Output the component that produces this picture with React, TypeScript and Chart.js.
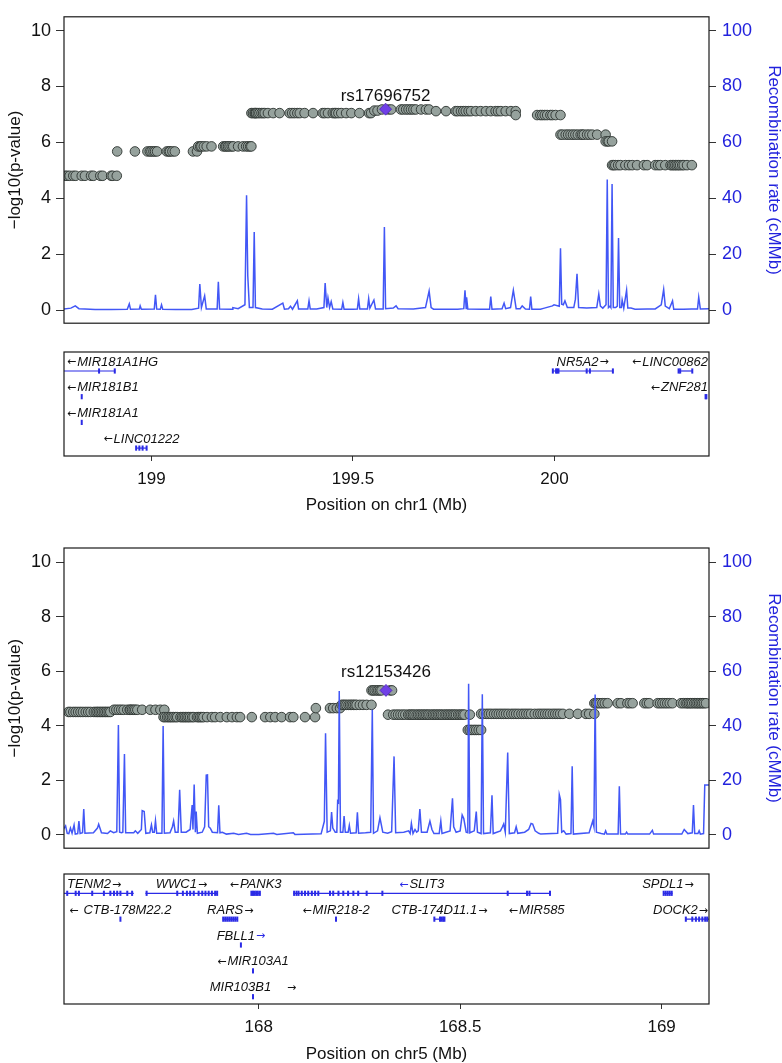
import { useEffect, useRef } from 'react';
import { Chart, registerables } from 'chart.js';

Chart.register(...registerables);

// ---------------- DATA ----------------
type Block = { logp: number; pos: number[] };
type Gene = { name: string; strand: '+' | '-'; row: number; start: number; end: number; exons: number[] };
type Lead = { name: string; pos: number; logp: number; labelY: number };

const leftTicks = [0, 2, 4, 6, 8, 10];
const rightTicks = [0, 20, 40, 60, 80, 100];
const topXTicks = [199, 199.5, 200];
const botXTicks = [168, 168.5, 169];

const topLead: Lead = { name: 'rs17696752', pos: 199.581, logp: 7.19, labelY: 7.64 };
const botLead: Lead = { name: 'rs12153426', pos: 168.316, logp: 5.3, labelY: 5.97 };

const topSnps: Block[] = [
  { logp: 4.81, pos: [198.786, 198.791, 198.797, 198.806, 198.812, 198.827, 198.835, 198.85, 198.856, 198.873, 198.879, 198.9, 198.904, 198.914] },
  { logp: 5.68, pos: [198.915, 198.959, 198.99, 198.996, 199.0, 199.005, 199.009, 199.014, 199.038, 199.043, 199.046, 199.052, 199.058, 199.103, 199.113] },
  { logp: 5.86, pos: [199.116, 199.121, 199.124, 199.13, 199.137, 199.149, 199.178, 199.183, 199.186, 199.19, 199.194, 199.199, 199.203, 199.215, 199.227, 199.235, 199.24, 199.245, 199.248] },
  { logp: 7.05, pos: [199.248, 199.252, 199.256, 199.258, 199.26, 199.264, 199.268, 199.273, 199.277, 199.281, 199.289, 199.302, 199.318, 199.343, 199.349, 199.355, 199.362, 199.368, 199.38, 199.401, 199.425, 199.43, 199.438, 199.45, 199.455, 199.458, 199.464, 199.471, 199.483, 199.496, 199.516, 199.54, 199.545] },
  { logp: 7.14, pos: [199.553, 199.561] },
  { logp: 7.18, pos: [199.572, 199.588, 199.595, 199.619, 199.625, 199.632, 199.638, 199.644, 199.65, 199.656, 199.669, 199.681, 199.689] },
  { logp: 7.12, pos: [199.706, 199.731, 199.755, 199.76, 199.768, 199.774, 199.78, 199.787, 199.793, 199.805, 199.817, 199.83, 199.842, 199.854, 199.86, 199.867, 199.879, 199.892, 199.904] },
  { logp: 6.98, pos: [199.904, 199.957, 199.965, 199.97, 199.976, 199.982, 199.99, 199.995, 200.003, 200.015] },
  { logp: 6.28, pos: [200.015, 200.02, 200.028, 200.034, 200.04, 200.046, 200.052, 200.058, 200.065, 200.069, 200.073, 200.081, 200.087, 200.094, 200.106, 200.127] },
  { logp: 6.04, pos: [200.127, 200.132, 200.135, 200.143] },
  { logp: 5.19, pos: [200.143, 200.147, 200.151, 200.158, 200.164, 200.176, 200.185, 200.193, 200.205, 200.222, 200.23, 200.25, 200.257, 200.263, 200.275, 200.288, 200.292, 200.296, 200.3, 200.304, 200.308, 200.312, 200.317, 200.321, 200.329, 200.341] },
];

const botSnps: Block[] = [
  { logp: 4.51, pos: [167.528, 167.533, 167.54, 167.546, 167.552, 167.558, 167.564, 167.571, 167.577, 167.583, 167.591, 167.596, 167.6, 167.604, 167.608, 167.612, 167.616, 167.62, 167.624, 167.628, 167.632] },
  { logp: 4.59, pos: [167.641, 167.647, 167.653, 167.659, 167.665, 167.674, 167.68, 167.682, 167.686, 167.69, 167.694, 167.699, 167.711, 167.731, 167.744, 167.756, 167.766] },
  { logp: 4.32, pos: [167.764, 167.768, 167.773, 167.777, 167.781, 167.785, 167.789, 167.794, 167.798, 167.806, 167.81, 167.814, 167.818, 167.822, 167.826, 167.83, 167.835, 167.839, 167.847, 167.851, 167.855, 167.859, 167.863, 167.872, 167.884, 167.892, 167.905, 167.921, 167.934, 167.946, 167.954, 167.983, 168.016, 168.029, 168.041, 168.057, 168.078, 168.086, 168.115, 168.14] },
  { logp: 4.65, pos: [168.142, 168.177, 168.185, 168.194, 168.202] },
  { logp: 4.77, pos: [168.206, 168.21, 168.214, 168.218, 168.223, 168.227, 168.231, 168.235, 168.239, 168.243, 168.251, 168.259, 168.268, 168.28] },
  { logp: 5.3, pos: [168.28, 168.284, 168.288, 168.293, 168.297, 168.301, 168.305, 168.326, 168.331] },
  { logp: 4.41, pos: [168.321, 168.334, 168.34, 168.346, 168.352, 168.358, 168.364, 168.371, 168.375, 168.379, 168.383, 168.387, 168.392, 168.396, 168.4, 168.404, 168.408, 168.412, 168.416, 168.42, 168.424, 168.429, 168.433, 168.437, 168.441, 168.445, 168.449, 168.453, 168.457, 168.462, 168.466, 168.47, 168.474, 168.478, 168.482, 168.486, 168.49, 168.495, 168.499, 168.503, 168.507, 168.511, 168.524] },
  { logp: 3.85, pos: [168.519, 168.524, 168.529, 168.535, 168.54, 168.546, 168.552] },
  { logp: 4.44, pos: [168.552, 168.558, 168.565, 168.571, 168.577, 168.584, 168.59, 168.596, 168.602, 168.608, 168.614, 168.62, 168.627, 168.633, 168.639, 168.645, 168.652, 168.658, 168.664, 168.67, 168.676, 168.685, 168.693, 168.699, 168.705, 168.711, 168.717, 168.723, 168.73, 168.736, 168.742, 168.748, 168.755, 168.771, 168.792, 168.812, 168.82, 168.833] },
  { logp: 4.83, pos: [168.833, 168.837, 168.841, 168.847, 168.853, 168.859, 168.866, 168.891, 168.899, 168.915, 168.921, 168.928, 168.957, 168.963, 168.969, 168.99, 168.996, 169.002, 169.008, 169.014, 169.02, 169.027, 169.048, 169.054, 169.06, 169.064, 169.068, 169.072, 169.076, 169.081, 169.085, 169.089, 169.093, 169.097, 169.101, 169.105, 169.11] },
];

const topRecomb: [number, number][] = [
  [198.78, 0.4], [198.8, 0.8], [198.811, 1.6], [198.82, 0.6], [198.835, 0.5], [198.86, 0.3], [198.9, 0.3],
  [198.94, 0.4], [198.945, 2.3], [198.948, 0.4], [198.97, 0.5], [198.972, 1.6], [198.975, 0.4],
  [199.007, 0.5], [199.01, 5.6], [199.013, 0.5], [199.022, 0.4], [199.025, 2.0], [199.028, 0.4],
  [199.06, 0.3], [199.1, 0.3], [199.117, 0.8], [199.12, 9.4], [199.124, 1.0], [199.132, 5.2], [199.136, 0.5],
  [199.163, 0.5], [199.166, 10.2], [199.169, 0.5], [199.2, 0.4], [199.202, 1.0], [199.215, 0.6],
  [199.232, 2.0], [199.236, 41.1], [199.239, 12.4], [199.243, 1.0], [199.252, 1.0], [199.255, 28.0], [199.258, 1.0],
  [199.275, 0.5], [199.3, 0.4], [199.326, 2.6], [199.33, 0.4], [199.34, 0.6], [199.345, 1.5], [199.35, 0.4],
  [199.362, 3.4], [199.365, 0.5], [199.388, 0.5], [199.391, 3.4], [199.394, 0.5], [199.41, 0.5],
  [199.428, 1.0], [199.431, 9.8], [199.435, 1.0], [199.438, 4.5], [199.442, 1.0], [199.446, 3.1], [199.45, 0.5],
  [199.472, 0.4], [199.475, 2.8], [199.478, 0.4], [199.5, 0.4], [199.511, 0.5], [199.514, 4.2], [199.517, 0.5],
  [199.536, 0.5], [199.539, 4.2], [199.542, 0.8], [199.552, 3.7], [199.556, 0.5], [199.575, 0.5],
  [199.578, 29.8], [199.581, 0.6], [199.6, 0.8], [199.607, 1.6], [199.612, 0.6], [199.65, 0.5],
  [199.68, 1.0], [199.689, 6.9], [199.694, 1.0], [199.7, 0.4], [199.76, 0.4], [199.775, 0.6],
  [199.778, 7.2], [199.781, 0.7], [199.782, 4.7], [199.785, 0.5], [199.82, 0.4], [199.839, 0.4],
  [199.842, 4.9], [199.845, 0.4], [199.87, 0.6], [199.875, 2.6], [199.879, 0.6], [199.891, 1.0],
  [199.898, 7.2], [199.905, 0.6], [199.915, 0.6], [199.92, 1.6], [199.928, 0.5], [199.938, 0.4],
  [199.941, 4.9], [199.944, 0.4], [199.965, 0.4], [199.975, 0.8], [199.995, 1.6], [199.999, 2.0],
  [200.012, 1.5], [200.015, 22.2], [200.018, 2.2], [200.022, 2.0], [200.026, 3.4], [200.032, 1.0],
  [200.048, 1.0], [200.052, 4.0], [200.056, 13.1], [200.06, 1.0], [200.08, 0.8], [200.105, 1.0],
  [200.11, 5.8], [200.114, 1.5], [200.12, 0.8], [200.128, 2.0], [200.131, 46.8], [200.134, 1.0],
  [200.138, 1.5], [200.14, 1.0], [200.143, 45.2], [200.146, 1.0], [200.152, 1.0], [200.156, 1.5],
  [200.159, 25.9], [200.162, 1.0], [200.166, 1.0], [200.168, 3.7], [200.172, 0.8], [200.179, 7.2],
  [200.182, 0.8], [200.19, 0.8], [200.2, 0.4], [200.23, 0.5], [200.25, 0.5], [200.265, 2.0],
  [200.271, 7.5], [200.275, 1.5], [200.285, 0.6], [200.293, 3.4], [200.296, 0.4], [200.32, 0.4],
  [200.34, 0.5], [200.355, 0.5], [200.358, 4.7], [200.362, 0.5], [200.39, 0.6],
];

const botRecomb: [number, number][] = [
  [167.51, 0.8], [167.521, 3.3], [167.525, 0.6], [167.529, 0.5], [167.533, 2.5], [167.537, 0.6],
  [167.542, 3.6], [167.545, 0.3], [167.551, 0.5], [167.554, 5.1], [167.557, 0.5], [167.563, 0.8],
  [167.566, 9.5], [167.569, 0.6], [167.59, 0.8], [167.6, 2.5], [167.603, 3.9], [167.61, 0.8],
  [167.625, 0.5], [167.632, 1.5], [167.64, 0.8], [167.648, 1.2], [167.652, 40.3], [167.655, 1.0],
  [167.66, 0.8], [167.663, 1.0], [167.667, 29.7], [167.67, 0.8], [167.69, 0.8], [167.694, 1.5],
  [167.7, 0.6], [167.709, 2.0], [167.711, 8.9], [167.716, 8.6], [167.72, 0.6], [167.73, 0.8],
  [167.734, 3.7], [167.737, 1.0], [167.741, 1.0], [167.744, 5.2], [167.747, 0.6], [167.76, 0.6],
  [167.763, 39.9], [167.766, 0.6], [167.78, 0.8], [167.786, 3.0], [167.789, 5.1], [167.793, 1.0],
  [167.8, 1.0], [167.804, 16.6], [167.808, 1.0], [167.82, 1.0], [167.83, 2.0], [167.835, 11.0],
  [167.837, 2.0], [167.84, 18.5], [167.843, 1.0], [167.845, 8.6], [167.848, 0.6], [167.86, 1.0],
  [167.866, 3.0], [167.87, 21.9], [167.873, 22.0], [167.876, 3.0], [167.88, 2.5], [167.885, 1.0],
  [167.898, 0.8], [167.901, 10.9], [167.904, 0.8], [167.91, 1.0], [167.92, 0.3], [167.938, 0.6],
  [167.95, 0.2], [167.97, 0.6], [167.98, 0.2], [168.0, 0.2], [168.037, 0.6], [168.045, 0.2],
  [168.086, 0.8], [168.09, 0.2], [168.155, 0.4], [168.163, 5.0], [168.166, 37.3], [168.17, 1.0],
  [168.178, 1.5], [168.181, 8.4], [168.184, 2.5], [168.19, 1.0], [168.194, 1.0], [168.196, 12.4],
  [168.198, 12.0], [168.2, 52.8], [168.203, 1.0], [168.209, 1.0], [168.212, 6.9], [168.215, 1.0],
  [168.222, 1.0], [168.225, 3.5], [168.228, 0.6], [168.242, 0.8], [168.245, 8.3], [168.248, 0.6],
  [168.265, 0.8], [168.278, 1.0], [168.282, 45.9], [168.285, 0.6], [168.295, 1.5], [168.301, 6.3],
  [168.308, 1.0], [168.32, 0.6], [168.33, 1.2], [168.336, 28.8], [168.34, 0.8], [168.36, 1.0],
  [168.372, 1.5], [168.376, 0.5], [168.379, 4.2], [168.383, 0.5], [168.388, 2.0], [168.392, 1.0],
  [168.396, 1.5], [168.4, 9.5], [168.404, 1.0], [168.418, 1.0], [168.425, 5.1], [168.43, 2.0],
  [168.435, 0.5], [168.448, 0.5], [168.452, 5.1], [168.455, 0.5], [168.475, 1.5], [168.481, 13.4],
  [168.484, 3.0], [168.49, 1.0], [168.5, 1.5], [168.505, 7.3], [168.509, 6.0], [168.515, 1.0],
  [168.519, 0.8], [168.521, 55.4], [168.524, 0.8], [168.535, 1.5], [168.54, 8.6], [168.543, 1.0],
  [168.552, 0.5], [168.555, 51.6], [168.558, 0.5], [168.575, 0.8], [168.579, 14.5], [168.582, 0.5],
  [168.6, 1.5], [168.605, 3.0], [168.608, 4.0], [168.612, 1.0], [168.618, 30.2], [168.622, 0.5],
  [168.635, 0.8], [168.639, 3.0], [168.643, 0.6], [168.66, 1.0], [168.67, 2.0], [168.676, 4.2],
  [168.68, 4.0], [168.686, 1.5], [168.695, 0.6], [168.7, 0.3], [168.742, 0.6], [168.746, 14.8],
  [168.749, 13.0], [168.752, 1.0], [168.757, 1.5], [168.763, 0.3], [168.775, 0.5], [168.778, 25.2],
  [168.781, 0.3], [168.82, 0.8], [168.829, 5.1], [168.832, 3.0], [168.835, 51.5], [168.838, 1.0],
  [168.85, 0.5], [168.858, 0.3], [168.861, 1.5], [168.864, 0.3], [168.892, 0.3], [168.895, 17.8],
  [168.898, 0.3], [168.91, 0.3], [168.913, 1.0], [168.916, 0.3], [168.97, 0.3], [168.977, 1.7],
  [168.98, 0.3], [169.05, 0.3], [169.056, 2.0], [169.065, 0.5], [169.076, 0.8], [169.079, 11.0],
  [169.082, 0.5], [169.09, 0.5], [169.093, 1.5], [169.096, 0.3], [169.104, 0.5], [169.107, 18.3],
  [169.12, 18.3],
];

const topGenes: Gene[] = [
  { name: 'MIR181A1HG', strand: '-', row: 1, start: 198.6, end: 198.91, exons: [198.87, 198.909] },
  { name: 'MIR181B1', strand: '-', row: 2, start: 198.827, end: 198.827, exons: [198.827] },
  { name: 'MIR181A1', strand: '-', row: 3, start: 198.827, end: 198.827, exons: [198.827] },
  { name: 'LINC01222', strand: '-', row: 4, start: 198.962, end: 198.988, exons: [198.962, 198.97, 198.978, 198.988] },
  { name: 'NR5A2', strand: '+', row: 1, start: 199.995, end: 200.145, exons: [199.996, 200.004, 200.007, 200.01, 200.08, 200.088, 200.145] },
  { name: 'LINC00862', strand: '-', row: 1, start: 200.308, end: 200.342, exons: [200.308, 200.312, 200.342] },
  { name: 'ZNF281', strand: '-', row: 2, start: 200.374, end: 200.378, exons: [200.375, 200.377] },
];

const botGenes: Gene[] = [
  { name: 'TENM2', strand: '+', row: 1, start: 166.9, end: 167.69, exons: [167.525, 167.546, 167.554, 167.587, 167.616, 167.632, 167.641, 167.649, 167.657, 167.674, 167.686] },
  { name: 'WWC1', strand: '+', row: 1, start: 167.719, end: 167.898, exons: [167.722, 167.798, 167.812, 167.822, 167.83, 167.839, 167.851, 167.86, 167.868, 167.876, 167.884, 167.892, 167.897] },
  { name: 'PANK3', strand: '-', row: 1, start: 167.981, end: 168.004, exons: [167.982, 167.986, 167.99, 167.994, 167.998, 168.003] },
  { name: 'SLIT3', strand: '-', row: 1, start: 168.086, end: 168.723, exons: [168.088, 168.094, 168.099, 168.107, 168.115, 168.123, 168.132, 168.14, 168.148, 168.177, 168.185, 168.198, 168.21, 168.222, 168.235, 168.247, 168.268, 168.307, 168.618, 168.666, 168.672, 168.723] },
  { name: 'SPDL1', strand: '+', row: 1, start: 169.004, end: 169.027, exons: [169.005, 169.01, 169.015, 169.02, 169.025] },
  { name: 'CTB-178M22.2', strand: '-', row: 2, start: 167.657, end: 167.657, exons: [167.657] },
  { name: 'RARS', strand: '+', row: 2, start: 167.911, end: 167.948, exons: [167.912, 167.917, 167.922, 167.927, 167.932, 167.937, 167.942, 167.947] },
  { name: 'MIR218-2', strand: '-', row: 2, start: 168.192, end: 168.192, exons: [168.192] },
  { name: 'CTB-174D11.1', strand: '+', row: 2, start: 168.435, end: 168.462, exons: [168.436, 168.45, 168.454, 168.458, 168.461] },
  { name: 'MIR585', strand: '-', row: 2, start: 168.69, end: 168.69, exons: [] },
  { name: 'DOCK2', strand: '+', row: 2, start: 169.058, end: 169.6, exons: [169.06, 169.076, 169.085, 169.093, 169.101, 169.108, 169.113] },
  { name: 'FBLL1', strand: '+', row: 3, start: 167.956, end: 167.956, exons: [167.956] },
  { name: 'MIR103A1', strand: '-', row: 4, start: 167.986, end: 167.986, exons: [167.986] },
  { name: 'MIR103B1', strand: '+', row: 5, start: 167.986, end: 167.986, exons: [167.986] },
];

// ---------------- STYLE / LAYOUT ----------------
const W = 782;
const FONT = "'Liberation Sans', Arial, Helvetica, sans-serif";
const ARROW_FONT = "'DejaVu Sans', sans-serif";
const TXT = '#111111';
const BLUE_TXT = '#2222DD';
const RECOMB = '#4257F6';
const GENE_BLUE = '#2B2BE6';
const PT_FILL = '#96A29D';
const PT_EDGE = '#2C3330';
const LEAD = '#7040E6';
const AREA_LEFT = 64;
const AREA_RIGHT_W = 73;
const ARROW_GAP: Record<string, number> = { 'CTB-178M22.2': 5, 'MIR103B1': 16 };
const ARROW_BLUE = new Set(['SLIT3', 'FBLL1']);

Chart.defaults.font.family = FONT;
Chart.defaults.color = TXT;

const boxPlugin = {
  id: 'box',
  afterDraw(chart: any) {
    const { ctx, chartArea } = chart;
    const { left, top, right, bottom } = chartArea;
    ctx.save();
    ctx.strokeStyle = '#1a1a1a';
    ctx.lineWidth = 1.2;
    ctx.strokeRect(left, top, right - left, bottom - top);
    ctx.restore();
  },
};

const leadLabelPlugin = {
  id: 'leadLabel',
  afterDatasetsDraw(chart: any, _a: any, opts: any) {
    const lead: Lead | undefined = opts && opts.lead;
    if (!lead) return;
    const { ctx, scales } = chart;
    const x = scales.x.getPixelForValue(lead.pos);
    const y = scales.y.getPixelForValue(lead.labelY);
    ctx.save();
    ctx.font = `17px ${FONT}`;
    ctx.fillStyle = TXT;
    ctx.textAlign = 'center';
    ctx.textBaseline = 'middle';
    ctx.fillText(lead.name, x, y);
    ctx.restore();
  },
};

const geneLabelPlugin = {
  id: 'geneLabels',
  afterDatasetsDraw(chart: any, _a: any, opts: any) {
    const genes: Gene[] = (opts && opts.genes) || [];
    const { ctx, scales, chartArea } = chart;
    ctx.save();
    ctx.textBaseline = 'middle';
    ctx.textAlign = 'left';
    const nameFont = `italic 13px ${FONT}`;
    const arrowFont = `11px ${ARROW_FONT}`;
    for (const g of genes) {
      const arrow = g.strand === '-' ? '\u2190' : '\u2192';
      const gap = ARROW_GAP[g.name] ?? 1;
      ctx.font = arrowFont;
      const aw = ctx.measureText(arrow).width;
      ctx.font = nameFont;
      const nw = ctx.measureText(g.name).width;
      const w = aw + gap + nw;
      const cx = scales.x.getPixelForValue((g.start + g.end) / 2);
      let left = cx - w / 2;
      left = Math.min(left, chartArea.right - 1 - w);
      left = Math.max(left, chartArea.left + 3);
      const y = scales.y.getPixelForValue(g.row) - 9;
      const arrowColor = ARROW_BLUE.has(g.name) ? GENE_BLUE : TXT;
      const ax = g.strand === '-' ? left : left + nw + gap;
      const nx = g.strand === '-' ? left + aw + gap : left;
      ctx.font = arrowFont;
      ctx.fillStyle = arrowColor;
      ctx.fillText(arrow, ax, y + 0.5);
      ctx.font = nameFont;
      ctx.fillStyle = TXT;
      ctx.fillText(g.name, nx, y);
    }
    ctx.restore();
  },
};

type MainSpec = {
  blocks: Block[]; recomb: [number, number][]; lead: Lead;
  xMin: number; xMax: number; yMin: number; yMax: number; padTop: number; padBottom: number;
};

function mainConfig(s: MainSpec): any {
  const pts = s.blocks.flatMap((b) => b.pos.map((x) => ({ x, y: b.logp })));
  return {
    type: 'scatter',
    data: {
      datasets: [
        {
          label: 'lead', data: [{ x: s.lead.pos, y: s.lead.logp }], yAxisID: 'y',
          pointStyle: 'rectRot', pointRadius: 6, backgroundColor: LEAD, borderColor: '#4a20b8', borderWidth: 0.8,
        },
        {
          label: 'recomb', data: s.recomb.map(([x, r]) => ({ x, y: r })), yAxisID: 'y2',
          showLine: true, borderColor: RECOMB, borderWidth: 1.5, pointRadius: 0, tension: 0, fill: false,
        },
        {
          label: 'snps', data: pts, yAxisID: 'y',
          pointRadius: 4.8, backgroundColor: PT_FILL, borderColor: PT_EDGE, borderWidth: 0.9,
        },
      ],
    },
    options: {
      animation: false, responsive: false, maintainAspectRatio: false,
      layout: { padding: { top: s.padTop, bottom: s.padBottom, left: 0, right: 0 } },
      plugins: { legend: { display: false }, tooltip: { enabled: false }, leadLabel: { lead: s.lead } },
      events: [],
      scales: {
        x: { type: 'linear', min: s.xMin, max: s.xMax, display: false },
        y: {
          type: 'linear', position: 'left', min: s.yMin, max: s.yMax,
          afterFit: (sc: any) => { sc.width = AREA_LEFT; },
          afterBuildTicks: (sc: any) => { sc.ticks = leftTicks.map((v) => ({ value: v })); },
          ticks: { font: { size: 18 }, color: TXT, padding: 5, callback: (v: any) => `${v}` },
          grid: { display: true, drawOnChartArea: false, drawTicks: true, tickLength: 8, color: '#333', tickColor: '#333', tickWidth: 1 },
          border: { display: false },
          title: { display: true, text: '\u2212log10(p-value)', color: TXT, font: { size: 17, lineHeight: 1.2 }, padding: { top: 5, bottom: 0 } },
        },
        y2: {
          type: 'linear', position: 'right', min: s.yMin * 10, max: s.yMax * 10,
          afterFit: (sc: any) => { sc.width = AREA_RIGHT_W; },
          afterBuildTicks: (sc: any) => { sc.ticks = rightTicks.map((v) => ({ value: v })); },
          ticks: { font: { size: 18 }, color: BLUE_TXT, padding: 6, callback: (v: any) => `${v}` },
          grid: { display: true, drawOnChartArea: false, drawTicks: true, tickLength: 7, color: '#333', tickColor: '#333', tickWidth: 1 },
          border: { display: false },
          title: { display: true, text: 'Recombination rate (cMMb)', color: BLUE_TXT, font: { size: 17, lineHeight: 1 }, padding: { top: 0, bottom: 0 } },
        },
      },
    },
    plugins: [boxPlugin, leadLabelPlugin],
  };
}

type GeneSpec = {
  genes: Gene[]; xMin: number; xMax: number; yMin: number; yMax: number; padTop: number; axisH: number;
  xTicks: number[]; title: string;
};

function geneConfig(s: GeneSpec): any {
  const bodies = s.genes.filter((g) => g.end > g.start).map((g) => ({
    data: [{ x: g.start, y: g.row }, { x: g.end, y: g.row }],
    showLine: true, borderColor: GENE_BLUE, borderWidth: 1.2, pointRadius: 0,
  }));
  const exons = {
    data: s.genes.flatMap((g) => g.exons.map((x) => ({ x, y: g.row }))),
    pointStyle: 'line', rotation: 90, pointRadius: 2.6, borderColor: GENE_BLUE, backgroundColor: GENE_BLUE, borderWidth: 2,
  };
  return {
    type: 'scatter',
    data: { datasets: [exons, ...bodies] },
    options: {
      animation: false, responsive: false, maintainAspectRatio: false,
      layout: { padding: { top: s.padTop, bottom: 0, left: AREA_LEFT, right: AREA_RIGHT_W } },
      plugins: { legend: { display: false }, tooltip: { enabled: false }, geneLabels: { genes: s.genes } },
      events: [],
      scales: {
        x: {
          type: 'linear', position: 'bottom', min: s.xMin, max: s.xMax,
          afterFit: (sc: any) => { sc.height = s.axisH; },
          afterBuildTicks: (sc: any) => { sc.ticks = s.xTicks.map((v) => ({ value: v })); },
          ticks: { font: { size: 17 }, color: TXT, padding: 8, maxRotation: 0, callback: (v: any) => `${v}` },
          grid: { display: true, drawOnChartArea: false, drawTicks: true, tickLength: 5, color: '#333', tickColor: '#333' },
          border: { display: false },
          title: { display: true, text: s.title, color: TXT, font: { size: 17, lineHeight: 1 }, padding: { top: 0, bottom: 0 } },
        },
        y: { type: 'linear', display: false, reverse: true, min: s.yMin, max: s.yMax },
      },
    },
    plugins: [boxPlugin, geneLabelPlugin],
  };
}

function ChartCanvas({ make, top, height }: { make: () => any; top: number; height: number }) {
  const ref = useRef<HTMLCanvasElement>(null);
  useEffect(() => {
    const chart = new Chart(ref.current as HTMLCanvasElement, make());
    return () => chart.destroy();
  }, []);
  return (
    <canvas
      ref={ref}
      width={W}
      height={height}
      style={{ position: 'absolute', left: 0, top, width: W, height, display: 'block' }}
    />
  );
}

const TOP_X: [number, number] = [198.783, 200.3835];
const BOT_X: [number, number] = [167.517, 169.1175];

export default function App() {
  return (
    <div style={{ position: 'absolute', left: 0, top: 0, width: W, height: 1063, background: '#fff', overflow: 'hidden' }}>
      <ChartCanvas
        top={0}
        height={340}
        make={() => mainConfig({ blocks: topSnps, recomb: topRecomb, lead: topLead, xMin: TOP_X[0], xMax: TOP_X[1], yMin: -0.459, yMax: 10.492, padTop: 1, padBottom: 5 })}
      />
      <ChartCanvas
        top={340}
        height={174}
        make={() => geneConfig({ genes: topGenes, xMin: TOP_X[0], xMax: TOP_X[1], yMin: 0.261, yMax: 4.308, padTop: 12, axisH: 58, xTicks: topXTicks, title: 'Position on chr1 (Mb)' })}
      />
      <ChartCanvas
        top={530}
        height={335}
        make={() => mainConfig({ blocks: botSnps, recomb: botRecomb, lead: botLead, xMin: BOT_X[0], xMax: BOT_X[1], yMin: -0.4865, yMax: 10.522, padTop: 18, padBottom: 7 })}
      />
      <ChartCanvas
        top={865}
        height={198}
        make={() => geneConfig({ genes: botGenes, xMin: BOT_X[0], xMax: BOT_X[1], yMin: 0.253, yMax: 5.282, padTop: 9, axisH: 59, xTicks: botXTicks, title: 'Position on chr5 (Mb)' })}
      />
    </div>
  );
}
